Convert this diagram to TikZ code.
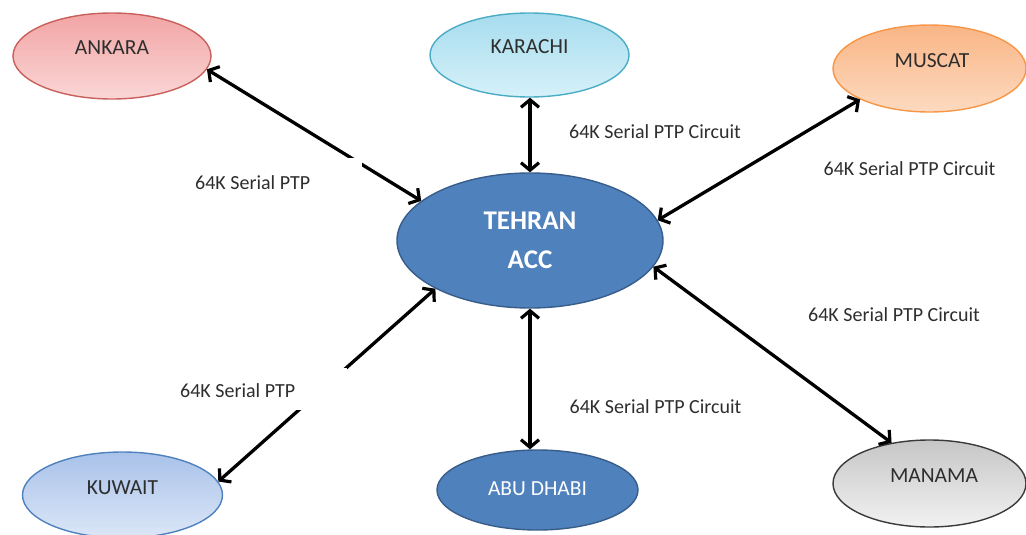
\documentclass[tikz,border=0pt]{standalone}
\usepackage{fontspec}
\setmainfont{Carlito}
\usetikzlibrary{shapes.geometric,arrows.meta}

\definecolor{ankaraTop}{HTML}{F2A4A4}
\definecolor{ankaraBot}{HTML}{FAD6D6}
\definecolor{ankaraLine}{HTML}{C8605C}
\definecolor{karachiTop}{HTML}{A6DCEE}
\definecolor{karachiBot}{HTML}{D6F1F9}
\definecolor{karachiLine}{HTML}{4BACC6}
\definecolor{muscatTop}{HTML}{F9B585}
\definecolor{muscatBot}{HTML}{FDDAC0}
\definecolor{muscatLine}{HTML}{F79646}
\definecolor{kuwaitTop}{HTML}{A9C2EA}
\definecolor{kuwaitBot}{HTML}{DCE7F7}
\definecolor{kuwaitLine}{HTML}{4F81BD}
\definecolor{manamaTop}{HTML}{C6C6C6}
\definecolor{manamaBot}{HTML}{F2F2F2}
\definecolor{manamaLine}{HTML}{3A3A3A}
\definecolor{hubFill}{HTML}{4F81BD}
\definecolor{hubLine}{HTML}{385D8A}
\definecolor{labelText}{HTML}{2E2E2E}

\tikzset{
  site/.style={ellipse, line width=1.4pt, text=labelText,
    font=\fontsize{21.5}{25}\selectfont, inner sep=0pt,
    text height=14pt, text depth=16pt},
  hub/.style={ellipse, line width=1.4pt, draw=hubLine, fill=hubFill, text=white, inner sep=0pt},
  link/.style={line width=3.3pt, black,
    {Straight Barb[length=7.5pt,width=18pt,line width=3.2pt]}-{Straight Barb[length=7.5pt,width=18pt,line width=3.2pt]}},
  circuit/.style={font=\fontsize{20}{24}\selectfont, text=labelText, anchor=base, inner sep=0pt},
  masked/.style={font=\fontsize{20}{24}\selectfont, text=labelText, fill=white,
    anchor=base west, align=flush left, text width=162pt, inner xsep=5pt, inner ysep=5pt}
}

\begin{document}
\begin{tikzpicture}[x=1pt,y=-1pt]
  \useasboundingbox (0,0) rectangle (1026,535);

  % stations
  \node[site, draw=ankaraLine, top color=ankaraTop, bottom color=ankaraBot,
        minimum width=198pt, minimum height=86pt] (ankara) at (112,56) {ANKARA};
  \node[site, draw=karachiLine, top color=karachiTop, bottom color=karachiBot,
        minimum width=199pt, minimum height=84pt] (karachi) at (529.5,55) {KARACHI};
  \node[site, draw=muscatLine, top color=muscatTop, bottom color=muscatBot,
        minimum width=193pt, minimum height=87pt] (muscat) at (929.5,68.5) {\hspace*{5pt}MUSCAT};
  \node[site, draw=kuwaitLine, top color=kuwaitTop, bottom color=kuwaitBot,
        minimum width=200pt, minimum height=86pt] (kuwait) at (122.5,495) {KUWAIT};
  \node[site, draw=manamaLine, top color=manamaTop, bottom color=manamaBot,
        minimum width=193pt, minimum height=87pt] (manama) at (929.5,483.5) {\hspace*{9pt}MANAMA};
  \node[hub, font=\fontsize{21.5}{25}\selectfont, text height=14pt, text depth=4pt,
        minimum width=201pt, minimum height=80pt] (abudhabi) at (537.5,490) {ABU DHABI};

  % central hub
  \node[hub, align=center, font=\bfseries\fontsize{27}{39}\selectfont,
        minimum width=266pt, minimum height=135pt] (tehran) at (530,240.5) {TEHRAN\\ACC};

  % circuits
  \draw[link] (ankara.-8) -- (tehran.160);
  \draw[link] (tehran.north |- karachi.south) -- (tehran.north);
  \draw[link] (muscat.204.6) -- (tehran.9.8);
  \draw[link] (tehran.-12.6) -- (manama.133.8);
  \draw[link] (tehran.south) -- (tehran.south |- abudhabi.north);
  \draw[link] (kuwait.8.7) -- (tehran.207.2);

  % circuit labels
  \node[circuit] (lkarachi) at (655,138) {64K Serial PTP Circuit};
  \node[circuit] (lmuscat) at (909.5,175) {64K Serial PTP Circuit};
  \node[circuit] (lmanama) at (894,321) {64K Serial PTP Circuit};
  \node[circuit] (labudhabi) at (655.5,413) {64K Serial PTP Circuit};
  \node[masked, text height=26pt, text depth=10pt] (lankara) at (190,189) {64K Serial PTP};
  \node[masked, text height=24pt, text depth=8pt] (lkuwait) at (175,397) {64K Serial PTP};
\end{tikzpicture}
\end{document}
